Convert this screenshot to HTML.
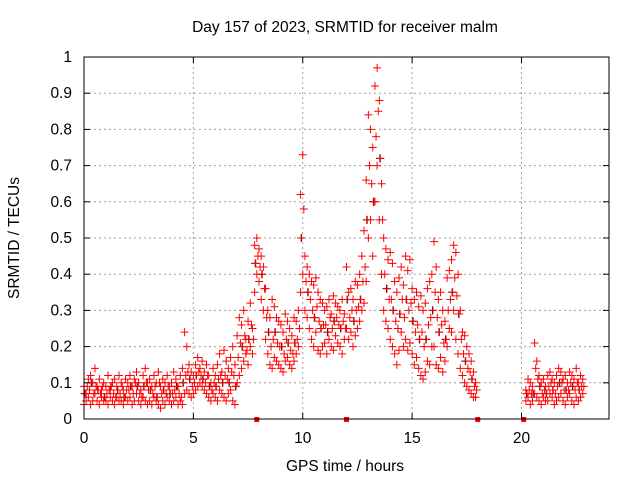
<!DOCTYPE html>
<html><head><meta charset="utf-8"><style>
body{margin:0;background:#fff;}
svg{display:block;font-family:"Liberation Sans",sans-serif;}
</style></head><body>
<svg id="chart" width="640" height="480" viewBox="0 0 640 480" xmlns="http://www.w3.org/2000/svg">
<rect x="0" y="0" width="640" height="480" fill="#fff"/>
<text x="345" y="32" font-size="15.5" text-anchor="middle" fill="#000">Day 157 of 2023, SRMTID for receiver malm</text>
<text x="345" y="471" font-size="15.5" text-anchor="middle" fill="#000">GPS time / hours</text>
<text x="19" y="238" font-size="15.5" text-anchor="middle" fill="#000" transform="rotate(-90 19 238)">SRMTID / TECUs</text>
<g id="grid"></g>
<g id="marks"></g>
<g id="axes"></g>
</svg>
<script>
const xTicks=[0,5,10,15,20];
const yTicks=[0,0.1,0.2,0.3,0.4,0.5,0.6,0.7,0.8,0.9,1];
const yTickLabels=["0","0.1","0.2","0.3","0.4","0.5","0.6","0.7","0.8","0.9","1"];
const times=[0,0.1,0.2,0.3,0.4,0.5,0.6,0.7,0.8,0.9,1,1.1,1.2,1.3,1.4,1.5,1.6,1.7,1.8,1.9,2,2.1,2.2,2.3,2.4,2.5,2.6,2.7,2.8,2.9,3,3.1,3.2,3.3,3.4,3.5,3.6,3.7,3.8,3.9,4,4.1,4.2,4.3,4.4,4.5,4.6,4.7,4.8,4.9,5,5.1,5.2,5.3,5.4,5.5,5.6,5.7,5.8,5.9,6,6.1,6.2,6.3,6.4,6.5,6.6,6.7,6.8,6.9,7,7.1,7.2,7.3,7.4,7.5,7.6,7.7,7.8,7.9,8,8.1,8.2,8.3,8.4,8.5,8.6,8.7,8.8,8.9,9,9.1,9.2,9.3,9.4,9.5,9.6,9.7,9.8,9.9,10,10.1,10.2,10.3,10.4,10.5,10.6,10.7,10.8,10.9,11,11.1,11.2,11.3,11.4,11.5,11.6,11.7,11.8,11.9,12,12.1,12.2,12.3,12.4,12.5,12.6,12.7,12.8,12.9,13,13.1,13.2,13.3,13.4,13.5,13.6,13.7,13.8,13.9,14,14.1,14.2,14.3,14.4,14.5,14.6,14.7,14.8,14.9,15,15.1,15.2,15.3,15.4,15.5,15.6,15.7,15.8,15.9,16,16.1,16.2,16.3,16.4,16.5,16.6,16.7,16.8,16.9,17,17.1,17.2,17.3,17.4,17.5,17.6,17.7,17.8,17.9,20.2,20.3,20.4,20.5,20.6,20.7,20.8,20.9,21,21.1,21.2,21.3,21.4,21.5,21.6,21.7,21.8,21.9,22,22.1,22.2,22.3,22.4,22.5,22.6,22.7,22.8];
const hiValues=[.09,.07,.11,.12,.10,.14,.09,.11,.08,.10,.09,.12,.08,.10,.11,.09,.12,.10,.08,.11,.10,.12,.09,.11,.13,.10,.08,.12,.14,.10,.11,.09,.12,.10,.13,.09,.11,.10,.12,.09,.10,.13,.11,.09,.12,.14,.24,.20,.15,.13,.12,.15,.17,.14,.16,.13,.15,.12,.10,.14,.12,.15,.18,.13,.19,.16,.14,.17,.20,.15,.23,.28,.26,.30,.22,.27,.32,.25,.48,.50,.47,.45,.42,.36,.30,.28,.33,.31,.28,.27,.26,.24,.29,.27,.25,.23,.28,.27,.30,.62,.73,.45,.42,.40,.38,.37,.39,.35,.33,.32,.30,.31,.33,.29,.34,.32,.31,.30,.33,.29,.42,.35,.36,.33,.38,.37,.40,.45,.52,.66,.84,.80,.75,.92,.97,.88,.65,.50,.47,.44,.46,.43,.38,.35,.39,.42,.37,.45,.41,.44,.36,.33,.35,.31,.34,.30,.32,.36,.38,.40,.49,.42,.33,.35,.30,.27,.39,.41,.44,.48,.46,.40,.30,.24,.23,.20,.18,.16,.13,.10,.08,.11,.10,.09,.21,.16,.12,.10,.11,.09,.12,.13,.11,.10,.12,.14,.13,.11,.12,.10,.13,.12,.11,.14,.10,.12,.11];
const midValues=[.07,.09,.08,.10,.07,.09,.08,.07,.09,.06,.07,.08,.09,.07,.06,.08,.07,.09,.06,.08,.08,.09,.07,.10,.09,.07,.06,.09,.10,.08,.08,.07,.09,.06,.10,.07,.08,.07,.09,.07,.07,.08,.09,.07,.06,.10,.12,.13,.11,.09,.10,.12,.13,.12,.11,.10,.12,.09,.08,.10,.09,.11,.12,.10,.12,.11,.10,.13,.12,.09,.17,.21,.20,.23,.19,.22,.26,.22,.43,.45,.42,.40,.36,.28,.24,.20,.22,.24,.21,.20,.20,.18,.22,.21,.19,.18,.21,.22,.25,.50,.58,.38,.35,.33,.30,.28,.31,.27,.25,.26,.26,.24,.28,.25,.27,.28,.26,.25,.27,.25,.33,.28,.30,.27,.30,.31,.33,.38,.42,.55,.70,.65,.60,.78,.85,.72,.55,.40,.36,.33,.33,.30,.27,.25,.29,.33,.28,.33,.30,.32,.27,.24,.26,.22,.24,.20,.22,.26,.28,.30,.35,.28,.24,.26,.21,.22,.30,.33,.35,.39,.34,.29,.22,.18,.16,.14,.13,.11,.09,.08,.07,.08,.07,.07,.14,.11,.09,.07,.08,.07,.09,.10,.08,.07,.09,.10,.10,.08,.08,.08,.10,.09,.08,.10,.08,.09,.09];
const loValues=[.04,.05,.06,.04,.05,.07,.05,.04,.06,.05,.05,.04,.06,.05,.04,.06,.05,.05,.04,.06,.05,.06,.04,.05,.07,.05,.04,.06,.05,.04,.05,.04,.06,.05,.04,.03,.05,.04,.06,.05,.04,.05,.06,.04,.05,.04,.07,.08,.07,.06,.07,.08,.09,.10,.09,.08,.07,.06,.05,.07,.06,.05,.08,.07,.06,.05,.07,.08,.05,.04,.10,.12,.14,.16,.18,.15,.20,.18,.35,.40,.38,.33,.30,.22,.18,.15,.14,.17,.16,.15,.14,.13,.16,.17,.15,.14,.16,.18,.20,.35,.40,.30,.28,.25,.22,.20,.24,.19,.18,.20,.21,.18,.22,.20,.19,.23,.21,.20,.18,.22,.25,.22,.24,.20,.23,.25,.27,.30,.32,.38,.50,.55,.45,.60,.70,.55,.40,.30,.27,.25,.22,.20,.18,.15,.19,.24,.20,.22,.19,.21,.18,.15,.17,.14,.12,.11,.13,.16,.15,.20,.20,.15,.14,.17,.13,.16,.20,.25,.24,.30,.22,.18,.14,.12,.10,.09,.08,.07,.06,.06,.05,.06,.04,.05,.07,.06,.05,.04,.06,.05,.05,.07,.06,.04,.05,.06,.07,.05,.04,.06,.07,.05,.04,.06,.05,.06,.07];
const gapTimes=[7.9,12.0,18.0,20.1];

const L=84,R=609,T=57,B=419,XMIN=0,XMAX=24,YMIN=0,YMAX=1;
const NS="http://www.w3.org/2000/svg";
function xs(v){return L+(v-XMIN)/(XMAX-XMIN)*(R-L);}
function ys(v){return B-(v-YMIN)/(YMAX-YMIN)*(B-T);}
function mk(tag,attrs,parent){const e=document.createElementNS(NS,tag);for(const k in attrs)e.setAttribute(k,attrs[k]);parent.appendChild(e);return e;}
const grid=document.getElementById('grid'),axes=document.getElementById('axes'),marks=document.getElementById('marks');

xTicks.forEach((t,i)=>{
  const x=xs(t);
  if(t>XMIN){const g=mk('line',{x1:x,x2:x,y1:T,y2:B,stroke:'#a0a0a0','stroke-dasharray':'2,3','stroke-width':1},grid);
  
  }
  const tk=mk('line',{x1:x,x2:x,y1:B,y2:B-6,stroke:'#000'},axes);
  
  
  const tk2=mk('line',{x1:x,x2:x,y1:T,y2:T+6,stroke:'#000'},axes);
  
  
  const lb=mk('text',{x:x,y:B+24,'font-size':15.5,'text-anchor':'middle',fill:'#000'},axes);
  lb.textContent=String(t);
  
  
});
yTicks.forEach((t,i)=>{
  const y=ys(t);
  if(t>YMIN&&t<YMAX){const g=mk('line',{x1:L,x2:R,y1:y,y2:y,stroke:'#a0a0a0','stroke-dasharray':'2,3','stroke-width':1},grid);
  
  }
  const tk=mk('line',{x1:L,x2:L+6,y1:y,y2:y,stroke:'#000'},axes);
  
  
  const tk2=mk('line',{x1:R,x2:R-6,y1:y,y2:y,stroke:'#000'},axes);
  
  
  const lb=mk('text',{x:L-12,y:y+5,'font-size':15.5,'text-anchor':'end',fill:'#000'},axes);
  lb.textContent=yTickLabels[i];
  
  
});
const border=mk('rect',{x:L,y:T,width:R-L,height:B-T,fill:'none',stroke:'#000','stroke-width':1},axes);



function plus(t,v,color,name){
  const x=xs(t),y=ys(v);
  const p=mk('path',{d:`M${x-4},${y}H${x+4}M${x},${y-4}V${y+4}`,stroke:color,'stroke-width':1,fill:'none'},marks);
  
  
}
times.forEach((t,i)=>{
  if(i%3===0) plus(t+0.03,midValues[i],'#000000','srmtid-point-black');
});
times.forEach((t,i)=>{
  plus(t,loValues[i],'#ff0000','srmtid-point-low');
  plus(t+0.05,midValues[i],'#ff0000','srmtid-point-mid');
  plus(t,hiValues[i],'#ff0000','srmtid-point-high');
});
gapTimes.forEach(t=>{
  const r=mk('rect',{x:xs(t)-2.5,y:B-2,width:5,height:5,fill:'#ff0000'},marks);
  
  
});
</script>
</body></html>
